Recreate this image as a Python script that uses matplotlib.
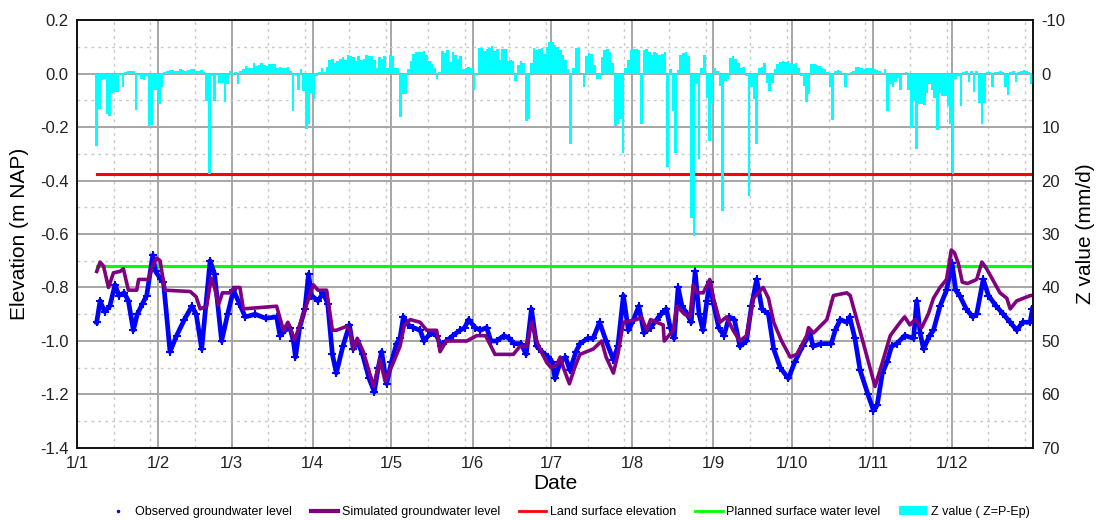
import numpy as np
import matplotlib
matplotlib.use("Agg")
import matplotlib.pyplot as plt
from matplotlib.lines import Line2D
from matplotlib.patches import Patch

plt.rcParams["font.family"] = ["Liberation Sans", "DejaVu Sans"]
plt.rcParams["axes.unicode_minus"] = False

# Daily Z value (P - Ep) in mm/d, one list per month, nan = no record
z_jan = [np.nan] * 7 + [13.6, 6.7, 1.2, 1.0, 7.6, 8.0, 3.6, 3.4, 3.5, 0.3, 2.6, -0.3, -0.5, -0.5,
                        -0.4, 6.9, 0.2, 1.1, 1.3, 0.5, 9.8, 9.6, 3.0, 3.0]
z_feb = [5.7, 2.6, -0.3, -0.5, -0.7, -0.6, -0.4, -0.5, -0.8, -0.6, -0.5, -0.7, -0.9, -0.8,
         -0.5, -0.4, -0.6, -0.3, 5.1, 18.7, 0.5, 5.1, 0.0, 1.7, 1.7, 5.4, 2.0, -0.4]
z_mar = [0.3, -0.3, 2.0, -0.4, -0.8, -1.4, -1.0, -1.0, -1.9, -1.4, -1.6, -2.0, -1.6, -1.4,
         -1.8, -1.7, -1.7, -1.0, -1.2, -1.0, -1.1, -1.2, -0.5, 7.0, 0.3, 3.0, -0.8, 3.2, 10.4,
         9.5, 3.6]
z_apr = [4.8, 0.5, -0.3, -1.0, -0.2, -1.2, -2.5, -2.8, -2.0, -2.4, -2.7, -3.0, -2.6, -3.5,
         -3.3, -3.0, -2.4, -3.2, -2.6, -2.8, -3.4, -3.2, -3.2, -2.6, -1.0, -3.0, -2.8, -3.3,
         -1.0, -3.5]
z_may = [-3.2, -1.0, -1.0, 8.2, 3.9, 3.9, -0.8, -2.3, -3.7, -4.1, -4.1, -4.0, -4.2, -3.5,
         -2.4, -1.8, -1.0, 1.1, -0.3, -4.2, -3.9, -4.4, -2.2, -4.1, -3.5, -2.8, -3.2, -0.9,
         -1.0, -1.2, -1.1]
z_jun = [3.1, 0.2, -4.8, -4.8, -4.2, -4.6, -4.8, -5.1, -4.3, -4.6, -2.6, -4.5, -4.5, -2.4,
         -2.6, -2.4, 1.4, -1.6, -2.3, -2.0, 8.8, 8.5, -2.0, -4.8, -4.4, -4.6, -4.8, -3.6,
         -5.0, -5.9]
z_jul = [-5.9, -5.4, -5.0, -4.4, -3.5, -2.6, -0.8, 13.1, -1.0, -4.7, -4.7, 0.0, 2.6, -3.2,
         -3.8, -3.6, -1.5, 1.1, 1.0, -3.0, -4.4, -4.6, -4.0, -2.0, 9.8, 9.5, 8.5, 14.8, -1.0,
         -2.6, -4.4]
z_aug = [-4.6, -4.6, -4.4, 9.4, -4.4, -4.5, -4.0, -3.5, -4.0, -3.8, -3.5, -3.6, -4.1, 17.5,
         -0.8, 7.0, 14.8, -0.7, -3.5, -3.8, -4.0, -3.3, 27.0, 30.4, 2.0, 15.9, -1.0, -3.5,
         4.5, 12.7, 5.7]
z_sep = [-1.0, -0.5, 2.3, 25.7, 1.4, 1.0, -2.9, -3.2, -2.7, -2.0, -1.0, -1.2, 0.5, 22.9,
         2.6, 4.8, 13.1, -1.0, -1.2, -2.0, 1.7, 3.3, 1.7, -0.8, -1.8, -2.1, -2.3, -2.2, -2.3,
         -2.0]
z_oct = [-1.8, -2.0, -1.0, 0.5, 2.3, 5.4, 3.9, -1.7, -1.8, -1.6, -1.4, -1.0, -0.8, -0.3,
         2.6, 8.7, -0.5, -0.6, -0.5, 0.0, 2.5, -0.1, -0.2, -0.4, -1.2, -1.2, -1.1, -0.9, -1.0,
         -1.0, -1.0]
z_nov = [-0.8, -0.6, -0.4, -0.1, -0.8, 7.0, 2.0, 2.6, 1.5, 0.8, 3.0, 0.0, -0.3, 3.0, 10.2,
         5.1, 14.1, 5.7, 5.7, 5.9, 3.6, 2.0, 3.0, 4.5, 10.5, 3.6, 4.2, 4.2, 6.0, 9.4]
z_dec = [18.7, 1.0, 0.5, 6.0, -0.3, -0.5, 1.6, -0.4, 3.5, -0.5, 5.5, 9.4, 5.5, -0.3, -0.2,
         2.6, -0.3, -0.2, -0.5, -0.2, 2.6, 4.0, -0.3, -0.5, 1.5, -0.3, -0.5, -0.6, -0.4, -0.3,
         2.0]

# Observed groundwater level (m NAP) at day of year
obs_day = [7.5, 8.8, 10.5, 12.5, 14.5, 16, 18, 19.6, 21.5, 23, 25, 26.6, 28.9, 30, 32, 33,
           35.5, 38, 41, 43.8, 45.5, 47.6, 50.8, 52.5, 55.2, 57.5, 59.7, 62, 64.2, 68, 72,
           76.2, 77.5, 79.5, 81.3, 82.6, 83.4, 85, 87, 88.4, 89.5, 92, 94, 95.7, 97.5, 99,
           101.5, 104, 105.5, 107, 109, 111.5, 113.5, 115, 116.3, 118.2, 120, 122, 123.3,
           124.6, 126.5, 128.4, 131, 132.5, 135, 137.3, 139, 141, 143.5, 146.2, 148, 149.5,
           152, 154, 156.4, 158, 160.2, 163, 165, 167, 169.5, 171.5, 173.5, 175.5, 177.5, 180,
           181.5, 182.5, 184.5, 186.5, 188.2, 190.5, 192, 195, 197.1, 199.5, 202, 204.8,
           206.5, 208.6, 210.5, 212.5, 214.5, 216.5, 219, 221.3, 223, 225, 226.5, 228, 229.5,
           231, 233, 234.5, 236, 237.5, 239, 240.5, 241.6, 243, 245, 247, 249, 251, 253.1,
           255.6, 257.5, 259.5, 261.5, 264, 266, 268.5, 271.6, 274, 277, 279.9, 281, 284, 288,
           289.5, 291.4, 293.9, 295, 297, 299, 302, 304.1, 305.5, 307.5, 309.2, 311, 313, 316,
           319.4, 320.6, 321.9, 323.2, 325.5, 327, 329.5, 332, 334.1, 335.5, 337, 339.5, 342,
           343.5, 346, 348, 351, 353.7, 356.3, 358.8, 361, 363.9, 364.8]
obs_val = [-0.93, -0.85, -0.89, -0.87, -0.79, -0.83, -0.82, -0.85, -0.96, -0.90, -0.86,
           -0.83, -0.68, -0.74, -0.77, -0.78, -1.04, -0.98, -0.92, -0.87, -0.90, -1.03, -0.70,
           -0.75, -1.00, -0.90, -0.81, -0.86, -0.91, -0.90, -0.915, -0.91, -0.98, -0.96, -0.95,
           -1.00, -1.06, -0.95, -0.88, -0.75, -0.83, -0.85, -0.82, -0.86, -1.05, -1.12, -1.02,
           -0.94, -1.03, -1.00, -1.05, -1.14, -1.19, -1.10, -1.04, -1.16, -1.08, -1.01, -0.99,
           -0.91, -0.94, -0.95, -0.96, -1.00, -0.97, -0.98, -1.02, -1.00, -0.98, -0.96, -0.95,
           -0.92, -0.95, -0.96, -0.95, -1.00, -1.00, -0.98, -0.99, -1.01, -1.01, -1.05, -0.88,
           -1.02, -1.04, -1.06, -1.08, -1.14, -1.08, -1.06, -1.11, -1.04, -1.01, -0.99, -0.99,
           -0.93, -1.00, -1.07, -1.02, -0.83, -0.96, -0.92, -0.87, -0.97, -0.95, -0.92, -0.90,
           -0.88, -0.95, -0.99, -0.80, -0.87, -0.90, -0.93, -0.74, -0.90, -0.96, -0.85, -0.78,
           -0.86, -0.95, -0.98, -0.91, -0.92, -1.02, -1.00, -0.87, -0.77, -0.88, -0.90, -1.03,
           -1.10, -1.14, -1.08, -1.02, -0.97, -1.02, -1.01, -1.01, -0.96, -0.92, -0.93, -0.91,
           -0.99, -1.11, -1.20, -1.26, -1.24, -1.12, -1.08, -1.02, -1.01, -0.98, -0.99, -0.85,
           -0.97, -1.03, -0.98, -0.96, -0.87, -0.81, -0.71, -0.81, -0.83, -0.88, -0.91, -0.90,
           -0.77, -0.83, -0.87, -0.90, -0.93, -0.96, -0.93, -0.93, -0.88]

# Simulated groundwater level (m NAP)
sim_day = [7.5, 8.8, 10.1, 12.0, 13.9, 16.4, 17.7, 19.6, 22.8, 23.5, 27.2, 29.2, 30.5, 31.7,
           33.5, 43.2, 45.5, 47, 49.5, 51.2, 52.5, 54, 55.5, 58.4, 60, 62.2, 63.5, 76.2, 78.8,
           80.5, 83, 84, 90.2, 92, 95.3, 97.5, 99, 103, 104.2, 105.5, 107, 109.3, 113.2, 115.7,
           117.6, 120.8, 123.3, 125, 127.2, 131, 133.5, 137.3, 138.6, 141, 147.5, 148.8, 152.6,
           156, 159.6, 166.6, 169.1, 171.7, 173.6, 175.5, 176.8, 179.3, 181, 183.1, 184.5,
           185.7, 188, 190, 192, 197.1, 200.3, 202, 204.8, 206.5, 208.6, 213.7, 215.5, 217.5,
           219, 221.3, 223.8, 224.2, 225.1, 227.6, 229, 232, 234, 235.3, 236.6, 239.1, 241.6,
           243, 245.5, 248, 250.5, 253.1, 255.6, 258.3, 260, 262, 264, 266, 269, 272.3, 274.8,
           278.6, 279.3, 281.2, 286.3, 288.8, 293.9, 295.2, 300, 304.7, 307.5, 310.5, 314.3,
           316, 318, 320, 322.5, 325, 327, 329.5, 332, 333.8, 335, 336.5, 338, 340, 343.5,
           345.5, 347.3, 352.4, 355, 356.3, 358.8, 364, 365]
sim_val = [-0.74, -0.705, -0.72, -0.80, -0.745, -0.74, -0.73, -0.81, -0.81, -0.77, -0.77,
           -0.71, -0.69, -0.70, -0.81, -0.815, -0.835, -0.88, -0.87, -0.765, -0.80, -0.865,
           -0.82, -0.82, -0.80, -0.80, -0.88, -0.87, -0.96, -0.93, -0.995, -0.97, -0.79, -0.81,
           -0.81, -0.96, -0.96, -0.945, -0.96, -1.03, -0.99, -1.04, -1.17, -1.07, -1.15, -1.08,
           -1.02, -0.94, -0.92, -0.93, -0.96, -0.96, -1.04, -1.00, -1.00, -1.00, -0.98, -0.98,
           -1.05, -1.05, -1.02, -1.02, -0.93, -1.00, -1.03, -1.08, -1.10, -1.09, -1.06, -1.10,
           -1.16, -1.10, -1.05, -1.03, -1.00, -1.06, -1.12, -1.05, -0.93, -0.92, -0.91, -0.96,
           -0.92, -0.93, -0.94, -1.00, -0.99, -0.96, -0.87, -0.90, -0.91, -0.79, -0.82, -0.82,
           -0.77, -0.84, -0.93, -0.91, -0.96, -1.00, -0.98, -0.84, -0.82, -0.80, -0.84, -0.93,
           -1.00, -1.06, -1.05, -0.98, -0.95, -0.97, -0.92, -0.83, -0.82, -0.83, -1.00, -1.17,
           -1.08, -0.98, -0.93, -0.91, -0.94, -0.92, -0.95, -0.90, -0.84, -0.80, -0.77, -0.66,
           -0.67, -0.71, -0.78, -0.785, -0.77, -0.705, -0.73, -0.82, -0.84, -0.88, -0.85,
           -0.83, -0.83]

land_surface = -0.375
planned_level = -0.72
level_span = [7.5, 364.5]

month_start = [0, 31, 59, 90, 120, 151, 181, 212, 243, 273, 304, 334]
month_labels = ["1/1", "1/2", "1/3", "1/4", "1/5", "1/6", "1/7", "1/8", "1/9", "1/10",
                "1/11", "1/12"]
month_len = [31, 28, 31, 30, 31, 30, 31, 31, 30, 31, 30, 31]
elev_ticks = [-1.4, -1.2, -1.0, -0.8, -0.6, -0.4, -0.2, 0.0, 0.2]
elev_labels = ["-1.4", "-1.2", "-1.0", "-0.8", "-0.6", "-0.4", "-0.2", "0.0", "0.2"]

z_all = np.array(z_jan + z_feb + z_mar + z_apr + z_may + z_jun + z_jul + z_aug + z_sep
                 + z_oct + z_nov + z_dec)
z_day = np.arange(len(z_all))
ok = ~np.isnan(z_all)

fig = plt.figure(figsize=(10.96, 5.2), dpi=100)
ax = fig.add_axes([0.0703, 0.1385, 0.8722, 0.823])
ax2 = ax.twinx()

# grid: solid at month starts / 0.2 m, dotted at 15th and 29th / 0.1 m
minor_x = []
for s, n in zip(month_start, month_len):
    minor_x += [s + 14] + ([s + 28] if n > 28 else [])
ax.set_xticks(month_start)
ax.set_xticklabels(month_labels)
ax.set_xticks(minor_x, minor=True)
ax.set_yticks(elev_ticks)
ax.set_yticklabels(elev_labels)
ax.set_yticks(np.arange(-1.3, 0.2, 0.2), minor=True)
ax.grid(True, which="major", color="#a6a6a6", lw=1.4)
ax.grid(True, which="minor", color="#c8c8c8", lw=1.0, linestyle=(0, (2, 3)))
ax.set_axisbelow(True)

ax.plot(level_span, [land_surface] * 2, color="#ff0000", lw=2.2, zorder=2)
ax.plot(level_span, [planned_level] * 2, color="#00ff00", lw=2.2, zorder=2)
ax.plot(obs_day, obs_val, color="#0000ff", lw=3.4, marker="+", ms=6, mew=1.5, zorder=3)
ax.plot(sim_day, sim_val, color="#800080", lw=2.6, zorder=4)

ax2.bar(z_day[ok], z_all[ok], width=1.0, align="edge", color="#00ffff", linewidth=0)

ax.set_xlim(0, 365)
ax.set_ylim(-1.4, 0.2)
ax2.set_ylim(70, -10)
ax2.set_yticks(np.arange(-10, 71, 10))

for a in (ax, ax2):
    a.tick_params(which="both", length=0, labelsize=12, colors="#222222", pad=6)
    for sp in a.spines.values():
        sp.set_color("#111111")
        sp.set_linewidth(1.2)

ax.set_ylabel("Elevation (m NAP)", fontsize=15, labelpad=8)
ax2.set_ylabel("Z value (mm/d)", fontsize=15, labelpad=8)
ax.set_xlabel("Date", fontsize=15, labelpad=2)

handles = [
    Line2D([], [], color="#0000ff", marker=".", ms=3, linestyle="none"),
    Line2D([], [], color="#800080", lw=3),
    Line2D([], [], color="#ff0000", lw=2),
    Line2D([], [], color="#00ff00", lw=2),
    Patch(facecolor="#00ffff", edgecolor="none"),
]
labels = ["Observed groundwater level", "Simulated groundwater level",
          "Land surface elevation", "Planned surface water level", "Z value ( Z=P-Ep)"]
fig.legend(handles, labels, loc="lower center", bbox_to_anchor=(0.517, -0.018), ncol=5,
           frameon=False, prop={"size": 9}, handlelength=2.2,
           handletextpad=0.3, columnspacing=1.5)

fig.savefig("out.png", dpi=100)
